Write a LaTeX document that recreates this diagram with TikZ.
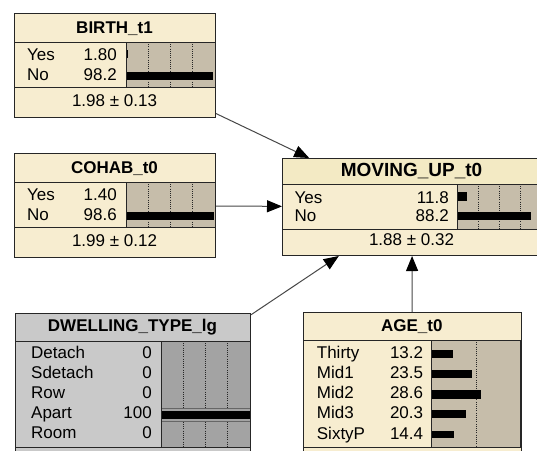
\documentclass[tikz,border=0pt]{standalone}
\usepackage{fontspec}
\setmainfont{Liberation Sans}
\usetikzlibrary{arrows.meta}

\definecolor{cream}{HTML}{F7EDD0}
\definecolor{creamtitle}{HTML}{F3EAC4}
\definecolor{tanbar}{HTML}{C6BDAA}
\definecolor{lgray}{HTML}{C9C9C9}
\definecolor{dgray}{HTML}{A3A3A3}
\definecolor{edge}{HTML}{262626}

\tikzset{
  netbox/.style={rectangle, draw=edge, line width=1pt, fill=cream, anchor=north west, inner sep=0pt},
  graybox/.style={netbox, fill=lgray},
  lab/.style={anchor=base west, inner sep=0pt, font=\fontsize{17}{20}\selectfont},
  val/.style={anchor=base east, inner sep=0pt, font=\fontsize{17}{20}\selectfont},
  ttl/.style={anchor=base, inner sep=0pt, font=\fontsize{17}{20}\selectfont\bfseries},
  mean/.style={anchor=base, inner sep=0pt, font=\fontsize{17}{20}\selectfont},
  barframe/.style={draw=edge, line width=1pt},
  sepline/.style={draw=edge, line width=1pt},
  gridline/.style={draw=black!85, line width=0.6pt, dash pattern=on 1pt off 1.2pt},
  link/.style={draw=black!72, line width=1pt, -{Triangle[length=15pt,width=12pt,color=black]}}
}

\begin{document}
\begin{tikzpicture}[x=1pt, y=-1pt]
\clip (0,0) rectangle (537,450);
\fill[white] (0,0) rectangle (537,450);

% ---------- node frames ----------
\node[netbox, minimum width=201pt, minimum height=104pt] (birth) at (14,13) {};
\node[netbox, minimum width=201pt, minimum height=104pt] (cohab) at (14,153) {};
\node[netbox, minimum width=259pt, minimum height=97pt] (moving) at (282,158) {};
\node[graybox, minimum width=235pt, minimum height=160pt] (dwell) at (15,313) {};
\node[netbox, minimum width=217.5pt, minimum height=165pt] (age) at (303,312) {};

% ---------- BIRTH_t1 ----------
\draw[sepline] (14,42) -- (215,42);
\draw[sepline] (14,87) -- (215,87);
\fill[tanbar] (126,42) rectangle (215,87);
\foreach \gx in {148.25,170.5,192.75} \draw[gridline] (\gx,42) -- (\gx,87);
\fill[black] (126,50) rectangle (127.6,58.3);
\fill[black] (126,71.7) rectangle (213.4,80);
\draw[barframe] (126,42) rectangle (215,87);
\node[ttl] (birthtitle) at (114.5,33.3) {BIRTH\_t1};
\node[lab] (birthyes) at (27,60) {Yes};
\node[val] (birthyesv) at (117,60) {1.80};
\node[lab] (birthno) at (27,80.5) {No};
\node[val] (birthnov) at (117,80.5) {98.2};
\node[mean] (birthmean) at (114.5,106) {1.98 ± 0.13};

% ---------- COHAB_t0 ----------
\draw[sepline] (14,182) -- (215,182);
\draw[sepline] (14,227) -- (215,227);
\fill[tanbar] (126,182) rectangle (215,227);
\foreach \gx in {148.25,170.5,192.75} \draw[gridline] (\gx,182) -- (\gx,227);
\fill[black] (126,190) rectangle (127.3,198.3);
\fill[black] (126,211.7) rectangle (213.8,220);
\draw[barframe] (126,182) rectangle (215,227);
\node[ttl] (cohabtitle) at (114.5,173.3) {COHAB\_t0};
\node[lab] (cohabyes) at (27,200) {Yes};
\node[val] (cohabyesv) at (117,200) {1.40};
\node[lab] (cohabno) at (27,220.5) {No};
\node[val] (cohabnov) at (117,220.5) {98.6};
\node[mean] (cohabmean) at (114.5,246) {1.99 ± 0.12};

% ---------- MOVING_UP_t0 ----------
\fill[creamtitle] (282.5,158.5) rectangle (540.5,184);
\draw[sepline] (282,184) -- (541,184);
\draw[sepline] (282,229) -- (541,229);
\fill[tanbar] (457.7,184) rectangle (541,229);
\foreach \gx in {478.5,499.3,520.2} \draw[gridline] (\gx,184) -- (\gx,229);
\fill[black] (457.7,192.3) rectangle (466.5,200.7);
\fill[black] (457.7,211.7) rectangle (531.2,220);
\draw[barframe] (457.7,184) rectangle (541,229);
\node[ttl, font=\fontsize{19}{22}\selectfont\bfseries] (movingtitle) at (411.5,176.7) {MOVING\_UP\_t0};
\node[lab] (movingyes) at (294.3,203) {Yes};
\node[val] (movingyesv) at (449,203) {11.8};
\node[lab] (movingno) at (294.3,221.5) {No};
\node[val] (movingnov) at (449,221.5) {88.2};
\node[mean] (movingmean) at (411.5,245.7) {1.88 ± 0.32};

% ---------- DWELLING_TYPE_lg ----------
\draw[sepline] (15,341) -- (250,341);
\draw[sepline] (15,447) -- (250,447);
\fill[dgray] (161,341) rectangle (250,447);
\foreach \gx in {183.25,205.5,227.75} {
  \draw[gridline] (\gx,341) -- (\gx,408.3);
  \draw[gridline] (\gx,421.7) -- (\gx,447);
}
\draw[draw=black!60, line width=1pt] (161,408.3) -- (250,408.3);
\draw[draw=black!60, line width=1pt] (161,421.7) -- (250,421.7);
\fill[black] (161,411) rectangle (250,418.5);
\draw[barframe] (161,341) rectangle (250,447);
\node[ttl] (dwelltitle) at (132.5,331.5) {DWELLING\_TYPE\_lg};
\node[lab] (dwdetach) at (31,358.3) {Detach};
\node[val] (dwdetachv) at (152,358.3) {0};
\node[lab] (dwsdetach) at (31,378.2) {Sdetach};
\node[val] (dwsdetachv) at (152,378.2) {0};
\node[lab] (dwrow) at (31,398.1) {Row};
\node[val] (dwrowv) at (152,398.1) {0};
\node[lab] (dwapart) at (31,418) {Apart};
\node[val] (dwapartv) at (152,418) {100};
\node[lab] (dwroom) at (31,438) {Room};
\node[val] (dwroomv) at (152,438) {0};

% ---------- AGE_t0 ----------
\draw[sepline] (303,340) -- (520.5,340);
\draw[sepline] (303,447) -- (520.5,447);
\fill[tanbar] (431,340) rectangle (520.5,447);
\draw[gridline] (476.7,340) -- (476.7,447);
\fill[black] (431,350) rectangle (453.3,357.7);
\fill[black] (431,369.5) rectangle (472.3,377.7);
\fill[black] (431,389.5) rectangle (481,398.5);
\fill[black] (431,410) rectangle (465.7,418.3);
\fill[black] (431,430.5) rectangle (454.3,438.3);
\draw[barframe] (431,340) rectangle (520.5,447);
\node[ttl] (agetitle) at (411.75,331.5) {AGE\_t0};
\node[lab] (agethirty) at (316.7,358.3) {Thirty};
\node[val] (agethirtyv) at (423.3,358.3) {13.2};
\node[lab] (agemida) at (316.7,378.5) {Mid1};
\node[val] (agemidav) at (423.3,378.5) {23.5};
\node[lab] (agemidb) at (316.7,398.7) {Mid2};
\node[val] (agemidbv) at (423.3,398.7) {28.6};
\node[lab] (agemidc) at (316.7,418.9) {Mid3};
\node[val] (agemidcv) at (423.3,418.9) {20.3};
\node[lab] (agesixty) at (316.7,439) {SixtyP};
\node[val] (agesixtyv) at (423.3,439) {14.4};

% ---------- links ----------
\draw[link] (birth) -- (moving);
\draw[link] (cohab) -- (moving);
\draw[link] (dwell) -- (moving);
\draw[link] (age) -- (moving);
\end{tikzpicture}
\end{document}
